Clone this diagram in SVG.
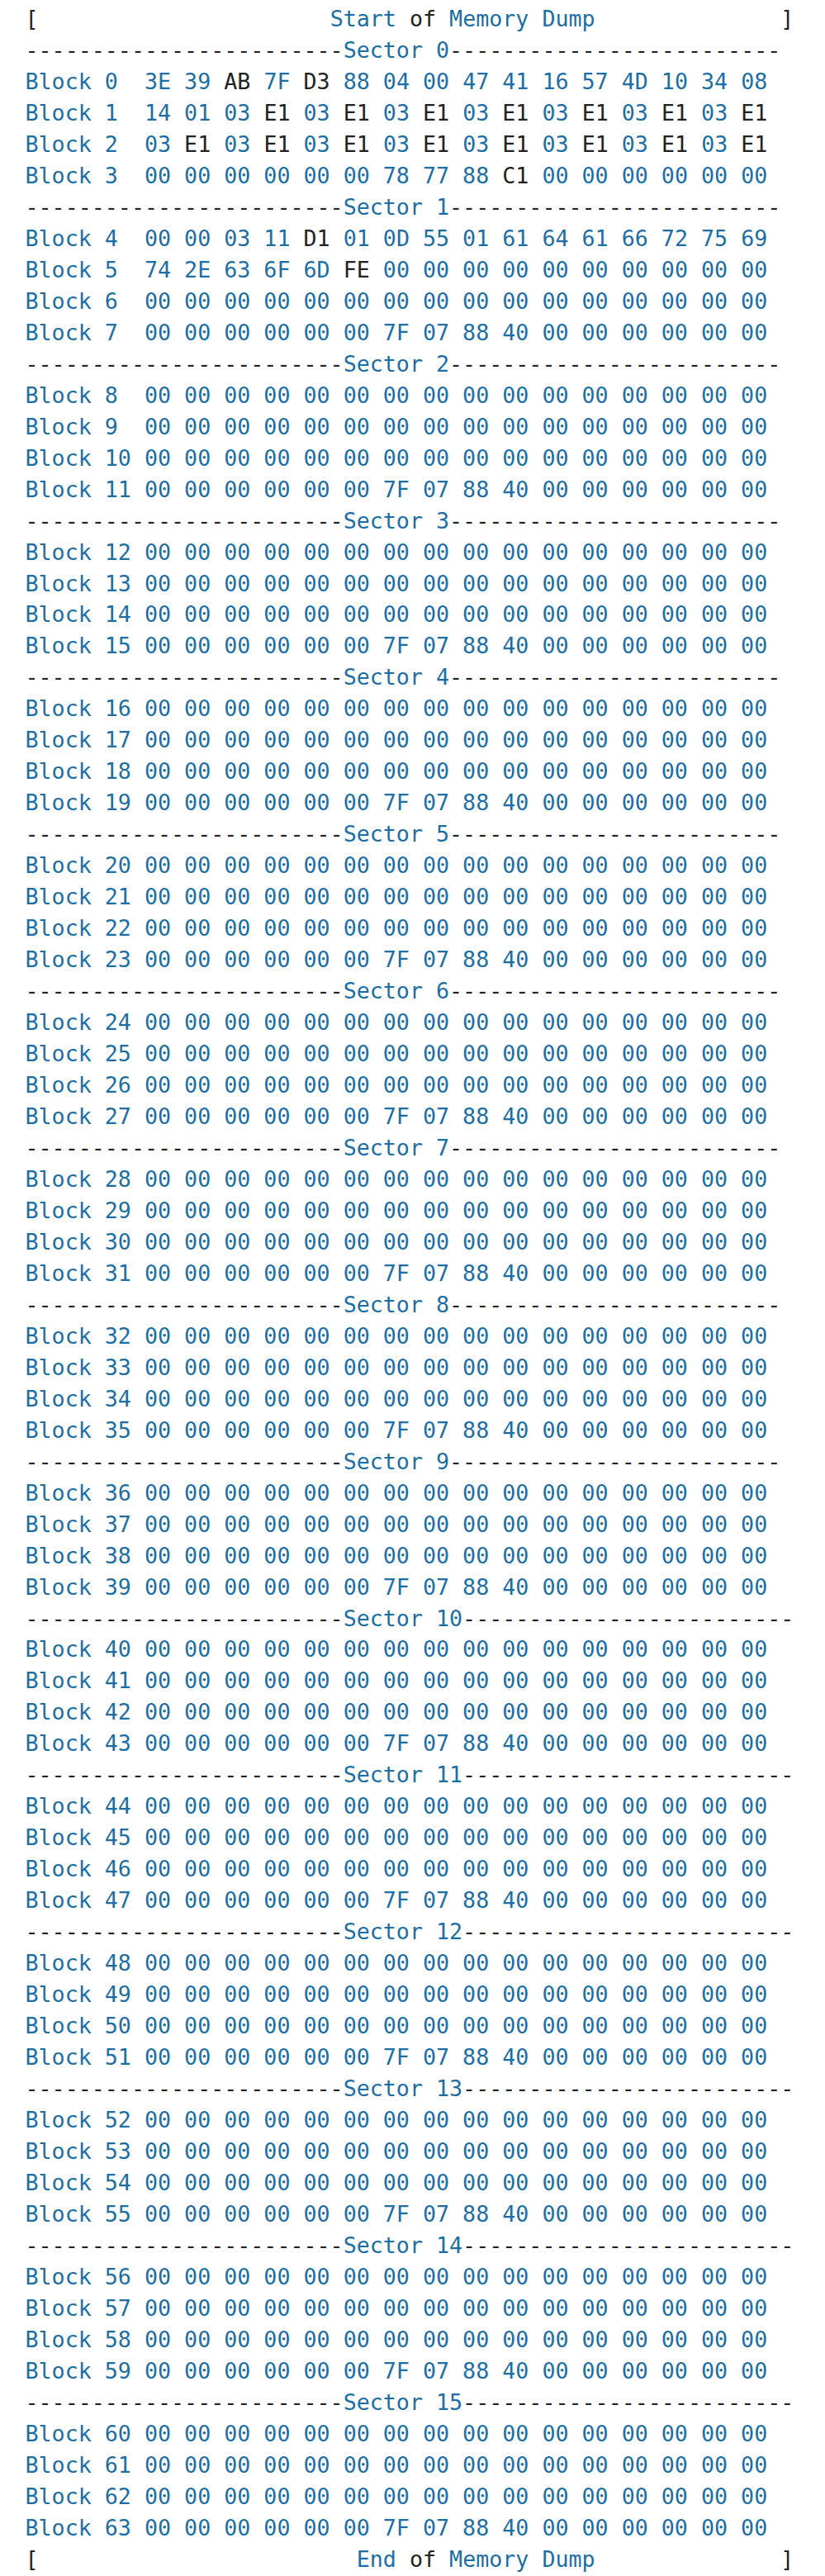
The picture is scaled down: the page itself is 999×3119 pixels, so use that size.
<svg xmlns="http://www.w3.org/2000/svg" width="999" height="3119" viewBox="0 0 999 3119" xml:space="preserve">
<style>
text{font-family:"DejaVu Sans Mono","Liberation Mono",monospace;font-size:26.66px;fill:#1c6ea4;white-space:pre}
.k{fill:#222222}
</style>
<rect width="999" height="3119" fill="#ffffff"/>
<g id="header"><text x="30.5" y="32"><tspan class="k">[</tspan>                      Start <tspan class="k">of</tspan> Memory Dump              <tspan class="k">]</tspan></text></g>
<g id="sector0">
<text x="30.5" y="70"><tspan class="k">------------------------</tspan>Sector 0<tspan class="k">-------------------------</tspan></text>
<text x="30.5" y="107.9">Block 0  3E 39 <tspan class="k">AB</tspan> 7F <tspan class="k">D3</tspan> 88 04 00 47 41 16 57 4D 10 34 08</text>
<text x="30.5" y="145.9">Block 1  14 01 03 <tspan class="k">E1</tspan> 03 <tspan class="k">E1</tspan> 03 <tspan class="k">E1</tspan> 03 <tspan class="k">E1</tspan> 03 <tspan class="k">E1</tspan> 03 <tspan class="k">E1</tspan> 03 <tspan class="k">E1</tspan></text>
<text x="30.5" y="183.9">Block 2  03 <tspan class="k">E1</tspan> 03 <tspan class="k">E1</tspan> 03 <tspan class="k">E1</tspan> 03 <tspan class="k">E1</tspan> 03 <tspan class="k">E1</tspan> 03 <tspan class="k">E1</tspan> 03 <tspan class="k">E1</tspan> 03 <tspan class="k">E1</tspan></text>
<text x="30.5" y="221.9">Block 3  00 00 00 00 00 00 78 77 88 <tspan class="k">C1</tspan> 00 00 00 00 00 00</text>
</g>
<g id="sector1">
<text x="30.5" y="259.8"><tspan class="k">------------------------</tspan>Sector 1<tspan class="k">-------------------------</tspan></text>
<text x="30.5" y="297.8">Block 4  00 00 03 11 <tspan class="k">D1</tspan> 01 0D 55 01 61 64 61 66 72 75 69</text>
<text x="30.5" y="335.8">Block 5  74 2E 63 6F 6D <tspan class="k">FE</tspan> 00 00 00 00 00 00 00 00 00 00</text>
<text x="30.5" y="373.7">Block 6  00 00 00 00 00 00 00 00 00 00 00 00 00 00 00 00</text>
<text x="30.5" y="411.7">Block 7  00 00 00 00 00 00 7F 07 88 40 00 00 00 00 00 00</text>
</g>
<g id="sector2">
<text x="30.5" y="449.7"><tspan class="k">------------------------</tspan>Sector 2<tspan class="k">-------------------------</tspan></text>
<text x="30.5" y="487.6">Block 8  00 00 00 00 00 00 00 00 00 00 00 00 00 00 00 00</text>
<text x="30.5" y="525.6">Block 9  00 00 00 00 00 00 00 00 00 00 00 00 00 00 00 00</text>
<text x="30.5" y="563.6">Block 10 00 00 00 00 00 00 00 00 00 00 00 00 00 00 00 00</text>
<text x="30.5" y="601.6">Block 11 00 00 00 00 00 00 7F 07 88 40 00 00 00 00 00 00</text>
</g>
<g id="sector3">
<text x="30.5" y="639.5"><tspan class="k">------------------------</tspan>Sector 3<tspan class="k">-------------------------</tspan></text>
<text x="30.5" y="677.5">Block 12 00 00 00 00 00 00 00 00 00 00 00 00 00 00 00 00</text>
<text x="30.5" y="715.5">Block 13 00 00 00 00 00 00 00 00 00 00 00 00 00 00 00 00</text>
<text x="30.5" y="753.4">Block 14 00 00 00 00 00 00 00 00 00 00 00 00 00 00 00 00</text>
<text x="30.5" y="791.4">Block 15 00 00 00 00 00 00 7F 07 88 40 00 00 00 00 00 00</text>
</g>
<g id="sector4">
<text x="30.5" y="829.4"><tspan class="k">------------------------</tspan>Sector 4<tspan class="k">-------------------------</tspan></text>
<text x="30.5" y="867.3">Block 16 00 00 00 00 00 00 00 00 00 00 00 00 00 00 00 00</text>
<text x="30.5" y="905.3">Block 17 00 00 00 00 00 00 00 00 00 00 00 00 00 00 00 00</text>
<text x="30.5" y="943.3">Block 18 00 00 00 00 00 00 00 00 00 00 00 00 00 00 00 00</text>
<text x="30.5" y="981.3">Block 19 00 00 00 00 00 00 7F 07 88 40 00 00 00 00 00 00</text>
</g>
<g id="sector5">
<text x="30.5" y="1019.2"><tspan class="k">------------------------</tspan>Sector 5<tspan class="k">-------------------------</tspan></text>
<text x="30.5" y="1057.2">Block 20 00 00 00 00 00 00 00 00 00 00 00 00 00 00 00 00</text>
<text x="30.5" y="1095.2">Block 21 00 00 00 00 00 00 00 00 00 00 00 00 00 00 00 00</text>
<text x="30.5" y="1133.1">Block 22 00 00 00 00 00 00 00 00 00 00 00 00 00 00 00 00</text>
<text x="30.5" y="1171.1">Block 23 00 00 00 00 00 00 7F 07 88 40 00 00 00 00 00 00</text>
</g>
<g id="sector6">
<text x="30.5" y="1209.1"><tspan class="k">------------------------</tspan>Sector 6<tspan class="k">-------------------------</tspan></text>
<text x="30.5" y="1247.0">Block 24 00 00 00 00 00 00 00 00 00 00 00 00 00 00 00 00</text>
<text x="30.5" y="1285.0">Block 25 00 00 00 00 00 00 00 00 00 00 00 00 00 00 00 00</text>
<text x="30.5" y="1323.0">Block 26 00 00 00 00 00 00 00 00 00 00 00 00 00 00 00 00</text>
<text x="30.5" y="1361.0">Block 27 00 00 00 00 00 00 7F 07 88 40 00 00 00 00 00 00</text>
</g>
<g id="sector7">
<text x="30.5" y="1398.9"><tspan class="k">------------------------</tspan>Sector 7<tspan class="k">-------------------------</tspan></text>
<text x="30.5" y="1436.9">Block 28 00 00 00 00 00 00 00 00 00 00 00 00 00 00 00 00</text>
<text x="30.5" y="1474.9">Block 29 00 00 00 00 00 00 00 00 00 00 00 00 00 00 00 00</text>
<text x="30.5" y="1512.8">Block 30 00 00 00 00 00 00 00 00 00 00 00 00 00 00 00 00</text>
<text x="30.5" y="1550.8">Block 31 00 00 00 00 00 00 7F 07 88 40 00 00 00 00 00 00</text>
</g>
<g id="sector8">
<text x="30.5" y="1588.8"><tspan class="k">------------------------</tspan>Sector 8<tspan class="k">-------------------------</tspan></text>
<text x="30.5" y="1626.7">Block 32 00 00 00 00 00 00 00 00 00 00 00 00 00 00 00 00</text>
<text x="30.5" y="1664.7">Block 33 00 00 00 00 00 00 00 00 00 00 00 00 00 00 00 00</text>
<text x="30.5" y="1702.7">Block 34 00 00 00 00 00 00 00 00 00 00 00 00 00 00 00 00</text>
<text x="30.5" y="1740.7">Block 35 00 00 00 00 00 00 7F 07 88 40 00 00 00 00 00 00</text>
</g>
<g id="sector9">
<text x="30.5" y="1778.6"><tspan class="k">------------------------</tspan>Sector 9<tspan class="k">-------------------------</tspan></text>
<text x="30.5" y="1816.6">Block 36 00 00 00 00 00 00 00 00 00 00 00 00 00 00 00 00</text>
<text x="30.5" y="1854.6">Block 37 00 00 00 00 00 00 00 00 00 00 00 00 00 00 00 00</text>
<text x="30.5" y="1892.5">Block 38 00 00 00 00 00 00 00 00 00 00 00 00 00 00 00 00</text>
<text x="30.5" y="1930.5">Block 39 00 00 00 00 00 00 7F 07 88 40 00 00 00 00 00 00</text>
</g>
<g id="sector10">
<text x="30.5" y="1968.5"><tspan class="k">------------------------</tspan>Sector 10<tspan class="k">-------------------------</tspan></text>
<text x="30.5" y="2006.4">Block 40 00 00 00 00 00 00 00 00 00 00 00 00 00 00 00 00</text>
<text x="30.5" y="2044.4">Block 41 00 00 00 00 00 00 00 00 00 00 00 00 00 00 00 00</text>
<text x="30.5" y="2082.4">Block 42 00 00 00 00 00 00 00 00 00 00 00 00 00 00 00 00</text>
<text x="30.5" y="2120.4">Block 43 00 00 00 00 00 00 7F 07 88 40 00 00 00 00 00 00</text>
</g>
<g id="sector11">
<text x="30.5" y="2158.3"><tspan class="k">------------------------</tspan>Sector 11<tspan class="k">-------------------------</tspan></text>
<text x="30.5" y="2196.3">Block 44 00 00 00 00 00 00 00 00 00 00 00 00 00 00 00 00</text>
<text x="30.5" y="2234.3">Block 45 00 00 00 00 00 00 00 00 00 00 00 00 00 00 00 00</text>
<text x="30.5" y="2272.2">Block 46 00 00 00 00 00 00 00 00 00 00 00 00 00 00 00 00</text>
<text x="30.5" y="2310.2">Block 47 00 00 00 00 00 00 7F 07 88 40 00 00 00 00 00 00</text>
</g>
<g id="sector12">
<text x="30.5" y="2348.2"><tspan class="k">------------------------</tspan>Sector 12<tspan class="k">-------------------------</tspan></text>
<text x="30.5" y="2386.1">Block 48 00 00 00 00 00 00 00 00 00 00 00 00 00 00 00 00</text>
<text x="30.5" y="2424.1">Block 49 00 00 00 00 00 00 00 00 00 00 00 00 00 00 00 00</text>
<text x="30.5" y="2462.1">Block 50 00 00 00 00 00 00 00 00 00 00 00 00 00 00 00 00</text>
<text x="30.5" y="2500.1">Block 51 00 00 00 00 00 00 7F 07 88 40 00 00 00 00 00 00</text>
</g>
<g id="sector13">
<text x="30.5" y="2538.0"><tspan class="k">------------------------</tspan>Sector 13<tspan class="k">-------------------------</tspan></text>
<text x="30.5" y="2576.0">Block 52 00 00 00 00 00 00 00 00 00 00 00 00 00 00 00 00</text>
<text x="30.5" y="2614.0">Block 53 00 00 00 00 00 00 00 00 00 00 00 00 00 00 00 00</text>
<text x="30.5" y="2651.9">Block 54 00 00 00 00 00 00 00 00 00 00 00 00 00 00 00 00</text>
<text x="30.5" y="2689.9">Block 55 00 00 00 00 00 00 7F 07 88 40 00 00 00 00 00 00</text>
</g>
<g id="sector14">
<text x="30.5" y="2727.9"><tspan class="k">------------------------</tspan>Sector 14<tspan class="k">-------------------------</tspan></text>
<text x="30.5" y="2765.8">Block 56 00 00 00 00 00 00 00 00 00 00 00 00 00 00 00 00</text>
<text x="30.5" y="2803.8">Block 57 00 00 00 00 00 00 00 00 00 00 00 00 00 00 00 00</text>
<text x="30.5" y="2841.8">Block 58 00 00 00 00 00 00 00 00 00 00 00 00 00 00 00 00</text>
<text x="30.5" y="2879.8">Block 59 00 00 00 00 00 00 7F 07 88 40 00 00 00 00 00 00</text>
</g>
<g id="sector15">
<text x="30.5" y="2917.7"><tspan class="k">------------------------</tspan>Sector 15<tspan class="k">-------------------------</tspan></text>
<text x="30.5" y="2955.7">Block 60 00 00 00 00 00 00 00 00 00 00 00 00 00 00 00 00</text>
<text x="30.5" y="2993.7">Block 61 00 00 00 00 00 00 00 00 00 00 00 00 00 00 00 00</text>
<text x="30.5" y="3031.6">Block 62 00 00 00 00 00 00 00 00 00 00 00 00 00 00 00 00</text>
<text x="30.5" y="3069.6">Block 63 00 00 00 00 00 00 7F 07 88 40 00 00 00 00 00 00</text>
</g>
<g id="footer"><text x="30.5" y="3107.6"><tspan class="k">[</tspan>                        End <tspan class="k">of</tspan> Memory Dump              <tspan class="k">]</tspan></text></g>
</svg>
